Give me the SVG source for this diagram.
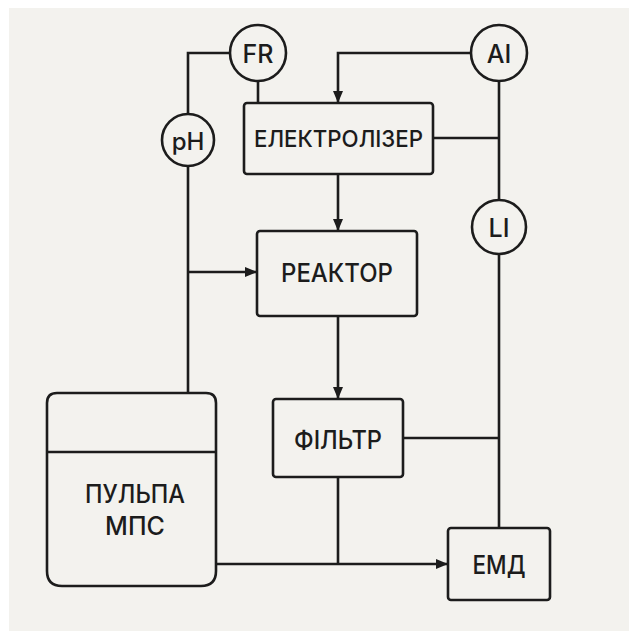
<svg xmlns="http://www.w3.org/2000/svg" width="629" height="631" viewBox="0 0 629 631">
<style>
.box{fill:none;stroke:#1c1c1c;stroke-width:2.6}
.ln{fill:none;stroke:#1c1c1c;stroke-width:2.6}
.t{font-family:Inter,"Noto Sans","Liberation Sans",sans-serif;font-weight:500;fill:#1c1c1c;text-anchor:middle;dominant-baseline:central}
</style>
<defs>
<marker id="ah" viewBox="0 0 12 10" refX="12" refY="5" markerWidth="12" markerHeight="10" markerUnits="userSpaceOnUse" orient="auto">
<path d="M0,0 L12,5 L0,10 Z" fill="#1c1c1c"/>
</marker>
</defs>
<rect x="0" y="0" width="629" height="631" fill="#ffffff"/>
<rect x="9" y="8" width="620" height="623" fill="#f3f2ee"/>
<g id="connectors">
<path class="ln" d="M188,114 V53 H230"/>
<path class="ln" d="M258,81 V103"/>
<path class="ln" d="M471,53 H338 V103" marker-end="url(#ah)"/>
<path class="ln" d="M499,81 V200"/>
<path class="ln" d="M433,138 H499"/>
<path class="ln" d="M338,174 V231" marker-end="url(#ah)"/>
<path class="ln" d="M188,167 V393"/>
<path class="ln" d="M188,272 H257" marker-end="url(#ah)"/>
<path class="ln" d="M338,316 V399" marker-end="url(#ah)"/>
<path class="ln" d="M403,438 H499"/>
<path class="ln" d="M499,254 V528"/>
<path class="ln" d="M338,477 V564"/>
<path class="ln" d="M216,564 H448" marker-end="url(#ah)"/>
</g>
<g id="FR">
<circle class="box" cx="258" cy="53" r="28" fill="#f3f2ee"/>
<text class="t" x="258" y="54" font-size="25">FR</text>
</g>
<g id="pH">
<circle class="box" cx="188" cy="140" r="26" fill="#f3f2ee"/>
<text class="t" x="188" y="141" font-size="24">pH</text>
</g>
<g id="AI">
<circle class="box" cx="499" cy="53" r="28" fill="#f3f2ee"/>
<text class="t" x="499" y="54" font-size="25">AI</text>
</g>
<g id="LI">
<circle class="box" cx="499" cy="227" r="27" fill="#f3f2ee"/>
<text class="t" x="499" y="228" font-size="25">LI</text>
</g>
<g id="electrolizer">
<rect class="box" x="244" y="103" width="189" height="71" rx="3"/>
<text class="t" x="338.5" y="139" font-size="23" textLength="169" lengthAdjust="spacingAndGlyphs">ЕЛЕКТРОЛІЗЕР</text>
</g>
<g id="reactor">
<rect class="box" x="257" y="231" width="160" height="85" rx="3"/>
<text class="t" x="337" y="273" font-size="25" textLength="112" lengthAdjust="spacingAndGlyphs">РЕАКТОР</text>
</g>
<g id="filter">
<rect class="box" x="273" y="399" width="130" height="78" rx="3"/>
<text class="t" x="338" y="440" font-size="25" textLength="88" lengthAdjust="spacingAndGlyphs">ФІЛЬТР</text>
</g>
<g id="emd">
<rect class="box" x="448" y="528" width="102" height="72" rx="3"/>
<text class="t" x="499" y="565" font-size="25" textLength="53" lengthAdjust="spacingAndGlyphs">ЕМД</text>
</g>
<g id="pulpa">
<path class="box" d="M57,393 H206 Q216,393 216,403 V571 Q216,586 201,586 H62 Q47,586 47,571 V403 Q47,393 57,393 Z"/>
<path class="ln" d="M47,452 H216"/>
<text class="t" x="135" y="494" font-size="25" textLength="100" lengthAdjust="spacingAndGlyphs">ПУЛЬПА</text>
<text class="t" x="135" y="526" font-size="25">МПС</text>
</g>
</svg>
